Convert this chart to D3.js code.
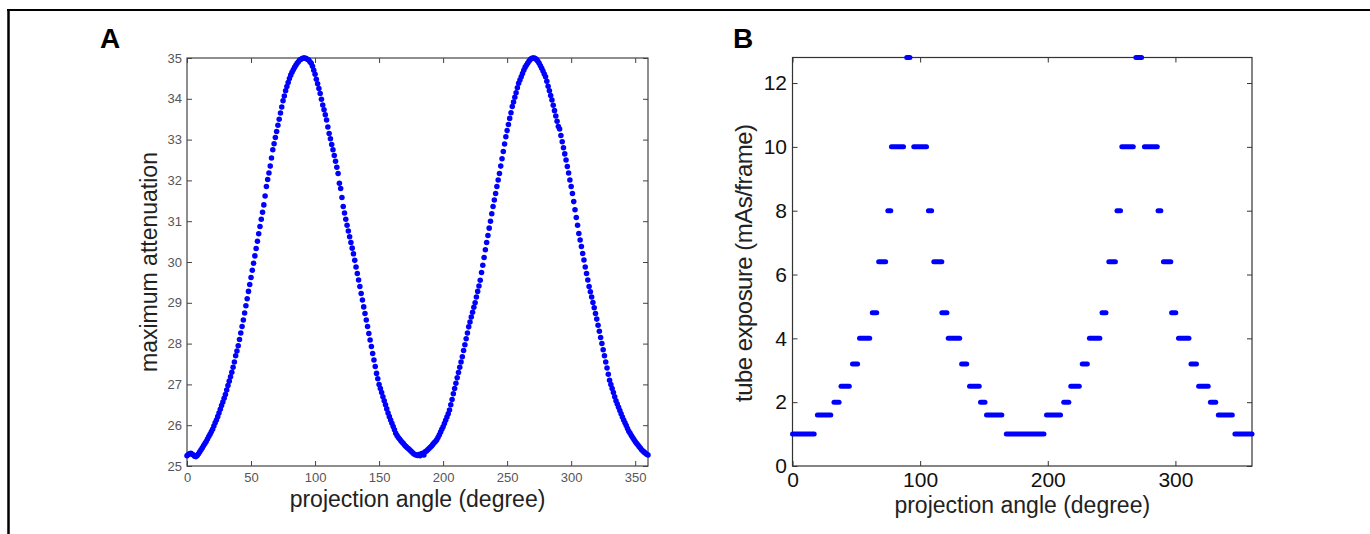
<!DOCTYPE html>
<html>
<head>
<meta charset="utf-8">
<script src="https://cdn.jsdelivr.net/npm/d3@7"></script>
<style>
  body { margin: 0; background: #fff; }
  svg { display: block; font-family: "Liberation Sans", Arial, sans-serif; }
</style>
</head>
<body>
<script>
const width = 1370;
const height = 534;

// panel A: maximum attenuation per projection angle (0..360, 1 degree steps)
const attenuation = [
  25.25, 25.28, 25.30, 25.31, 25.29, 25.27, 25.24, 25.23, 25.26, 25.30,
  25.35, 25.40, 25.45, 25.50, 25.55, 25.60, 25.66, 25.72, 25.78, 25.84,
  25.90, 25.98, 26.06, 26.13, 26.21, 26.30, 26.39, 26.48, 26.57, 26.66,
  26.75, 26.86, 26.97, 27.08, 27.19, 27.30, 27.42, 27.55, 27.70, 27.82,
  27.95, 28.10, 28.26, 28.42, 28.58, 28.75, 28.93, 29.10, 29.28, 29.45,
  29.62, 29.80, 29.97, 30.15, 30.33, 30.51, 30.69, 30.87, 31.05, 31.22,
  31.40, 31.62, 31.85, 32.02, 32.18, 32.35, 32.55, 32.75, 32.90, 33.05,
  33.20, 33.35, 33.50, 33.65, 33.80, 33.95, 34.07, 34.20, 34.30, 34.40,
  34.50, 34.58, 34.65, 34.71, 34.77, 34.82, 34.87, 34.91, 34.95, 34.97,
  34.99, 35.00, 35.00, 34.99, 34.97, 34.95, 34.91, 34.87, 34.80, 34.70,
  34.60, 34.48, 34.37, 34.25, 34.13, 33.99, 33.85, 33.73, 33.61, 33.48,
  33.31, 33.15, 33.02, 32.88, 32.75, 32.61, 32.47, 32.32, 32.17, 31.93,
  31.80, 31.58, 31.36, 31.20, 31.05, 30.90, 30.76, 30.62, 30.48, 30.34,
  30.20, 30.04, 29.88, 29.72, 29.56, 29.40, 29.23, 29.07, 28.90, 28.74,
  28.58, 28.42, 28.25, 28.09, 27.93, 27.76, 27.60, 27.44, 27.27, 27.14,
  27.00, 26.90, 26.80, 26.70, 26.60, 26.50, 26.40, 26.30, 26.21, 26.13,
  26.05, 25.97, 25.89, 25.80, 25.75, 25.70, 25.66, 25.62, 25.58, 25.55,
  25.51, 25.48, 25.45, 25.42, 25.39, 25.36, 25.33, 25.30, 25.28, 25.27,
  25.26, 25.28, 25.25, 25.30, 25.31, 25.27, 25.35, 25.37, 25.40, 25.43,
  25.46, 25.49, 25.53, 25.57, 25.60, 25.64, 25.70, 25.76, 25.83, 25.90,
  25.96, 26.04, 26.12, 26.20, 26.28, 26.37, 26.50, 26.63, 26.77, 26.90,
  27.03, 27.16, 27.29, 27.42, 27.55, 27.68, 27.83, 27.97, 28.12, 28.26,
  28.41, 28.53, 28.65, 28.77, 28.89, 29.00, 29.14, 29.28, 29.41, 29.55,
  29.74, 29.92, 30.11, 30.30, 30.48, 30.65, 30.83, 31.00, 31.18, 31.36,
  31.52, 31.68, 31.85, 32.01, 32.17, 32.35, 32.53, 32.71, 32.89, 33.07,
  33.22, 33.37, 33.52, 33.66, 33.81, 33.92, 34.04, 34.15, 34.27, 34.38,
  34.46, 34.54, 34.62, 34.70, 34.77, 34.82, 34.87, 34.92, 34.96, 34.99,
  35.00, 35.00, 34.99, 34.96, 34.92, 34.87, 34.81, 34.75, 34.68, 34.61,
  34.54, 34.43, 34.31, 34.20, 34.08, 33.97, 33.84, 33.71, 33.58, 33.45,
  33.32, 33.26, 33.10, 32.95, 32.80, 32.65, 32.50, 32.34, 32.18, 32.01,
  31.85, 31.68, 31.48, 31.28, 31.09, 30.90, 30.70, 30.54, 30.38, 30.21,
  30.05, 29.88, 29.72, 29.56, 29.40, 29.27, 29.14, 29.01, 28.88, 28.74,
  28.60, 28.45, 28.30, 28.15, 28.00, 27.85, 27.70, 27.55, 27.40, 27.25,
  27.10, 27.00, 26.90, 26.80, 26.70, 26.60, 26.52, 26.44, 26.36, 26.28,
  26.20, 26.13, 26.06, 25.99, 25.92, 25.85, 25.80, 25.75, 25.70, 25.65,
  25.60, 25.56, 25.52, 25.48, 25.44, 25.40, 25.37, 25.34, 25.31, 25.29,
  25.27
];

// panel B: tube exposure, runs of constant value (angle from, angle to, mAs/frame)
const runStart = [0, 19.5, 32.5, 38, 47, 52.5, 62.5, 67.5, 74.7, 77.5, 89.5, 95, 106.5, 110.7, 117, 122, 132.5, 138.7, 147.3, 152, 167.5,
  199, 212.5, 218, 227, 232.6, 242.5, 247.8, 254.2, 258, 269, 275.7, 286.4, 290.6, 297, 302.4, 312.2, 318.2, 327.4, 333.6, 346.6];
const runEnd = [17, 30, 36.5, 44.5, 51, 60.5, 66, 73, 77, 87, 92, 105, 109, 117, 121, 131, 136.5, 146.3, 150.8, 164, 197,
  210, 216.5, 224.7, 231, 240.8, 245.6, 253, 257, 267, 273.5, 285.8, 288.6, 296.4, 300.3, 310.6, 316.5, 325.7, 331.6, 344.6, 360];
const runValue = [1, 1.6, 2, 2.5, 3.2, 4, 4.8, 6.4, 8, 10, 12.8, 10, 8, 6.4, 4.8, 4, 3.2, 2.5, 2, 1.6, 1,
  1.6, 2, 2.5, 3.2, 4, 4.8, 6.4, 8, 10, 12.8, 10, 8, 6.4, 4.8, 4, 3.2, 2.5, 2, 1.6, 1];

const ticksAx = [0, 50, 100, 150, 200, 250, 300, 350];
const ticksAy = [25, 26, 27, 28, 29, 30, 31, 32, 33, 34, 35];
const ticksBx = [0, 100, 200, 300];
const ticksBy = [0, 2, 4, 6, 8, 10, 12];

const svg = d3.select('body').append('svg')
    .attr('width', width)
    .attr('height', height);

// figure frame (top and left edges only)
svg.append('line').attr('x1', 7).attr('x2', width).attr('y1', 10).attr('y2', 10)
    .style('stroke', '#000').style('stroke-width', 2);
svg.append('line').attr('x1', 8.5).attr('x2', 8.5).attr('y1', 9).attr('y2', height)
    .style('stroke', '#000').style('stroke-width', 2.5);

function drawBox(g, x, y, xTicks, yTicks, tickFont, tickColor, tickFill) {
    const [x0, x1] = x.range();
    const [y0, y1] = y.range();
    g.append('g').attr('transform', `translate(0,${y0})`)
        .call(d3.axisBottom(x).tickValues(xTicks).tickSizeInner(-5).tickSizeOuter(0).tickPadding(tickFont.padX))
        .call(a => a.selectAll('text').style('font-size', tickFont.size + 'px').style('fill', tickFill));
    g.append('g').attr('transform', `translate(0,${y1})`)
        .call(d3.axisTop(x).tickValues(xTicks).tickSizeInner(-5).tickSizeOuter(0).tickFormat(''));
    g.append('g').attr('transform', `translate(${x0},0)`)
        .call(d3.axisLeft(y).tickValues(yTicks).tickSizeInner(-5).tickSizeOuter(0).tickPadding(tickFont.padY))
        .call(a => a.selectAll('text').style('font-size', tickFont.size + 'px').style('fill', tickFill));
    g.append('g').attr('transform', `translate(${x1},0)`)
        .call(d3.axisRight(y).tickValues(yTicks).tickSizeInner(-5).tickSizeOuter(0).tickFormat(''));
    g.selectAll('.domain').remove();
    g.selectAll('.tick line').style('stroke', tickColor);
    g.append('rect')
        .attr('x', x0).attr('y', y1)
        .attr('width', x1 - x0).attr('height', y0 - y1)
        .style('fill', 'none').style('stroke', tickColor).style('stroke-width', 1.2);
}

// ---------- panel A ----------
const xA = d3.scaleLinear().domain([0, 360]).range([187, 648]);
const yA = d3.scaleLinear().domain([25, 35]).range([466, 58]);
const gA = svg.append('g');
drawBox(gA, xA, yA, ticksAx, ticksAy, { size: 13, padX: 6.5, padY: 5 }, '#444', '#555');

gA.append('text').attr('x', xA(180)).attr('y', 507)
    .attr('text-anchor', 'middle').style('font-size', '23px').style('fill', '#222')
    .text('projection angle (degree)');
gA.append('text').attr('transform', `translate(157,${yA(30)}) rotate(-90)`)
    .attr('text-anchor', 'middle').style('font-size', '23px').style('fill', '#222')
    .text('maximum attenuation');
gA.append('text').attr('x', 100).attr('y', 48)
    .style('font-size', '28px').style('font-weight', 'bold').text('A');

gA.append('g').selectAll('path')
    .data(attenuation)
    .enter().append('path')
    .attr('d', d3.symbol(d3.symbolCircle).size(24))
    .attr('transform', (d, i) => `translate(${xA(i)},${yA(d)})`)
    .style('fill', '#0000ff');

// ---------- panel B ----------
const xB = d3.scaleLinear().domain([0, 360]).range([792.5, 1252]);
const yB = d3.scaleLinear().domain([0, 12.8]).range([466, 57.5]);
const gB = svg.append('g');
drawBox(gB, xB, yB, ticksBx, ticksBy, { size: 21, padX: 6.5, padY: 5.5 }, '#333', '#111');

gB.append('text').attr('x', xB(180)).attr('y', 513)
    .attr('text-anchor', 'middle').style('font-size', '23px').style('fill', '#222')
    .text('projection angle (degree)');
gB.append('text').attr('transform', `translate(752,${(123 + 403) / 2}) rotate(-90)`)
    .attr('text-anchor', 'middle').style('font-size', '24px').style('fill', '#222')
    .attr('textLength', 278).attr('lengthAdjust', 'spacing')
    .text('tube exposure (mAs/frame)');
gB.append('text').attr('x', 733).attr('y', 48)
    .style('font-size', '28px').style('font-weight', 'bold').text('B');

gB.append('g').selectAll('line')
    .data(runValue)
    .enter().append('line')
    .attr('x1', (d, i) => xB(runStart[i]))
    .attr('x2', (d, i) => xB(runEnd[i]))
    .attr('y1', d => yB(d))
    .attr('y2', d => yB(d))
    .style('stroke', '#0000ff')
    .style('stroke-width', 5)
    .style('stroke-linecap', 'round');
</script>
</body>
</html>
